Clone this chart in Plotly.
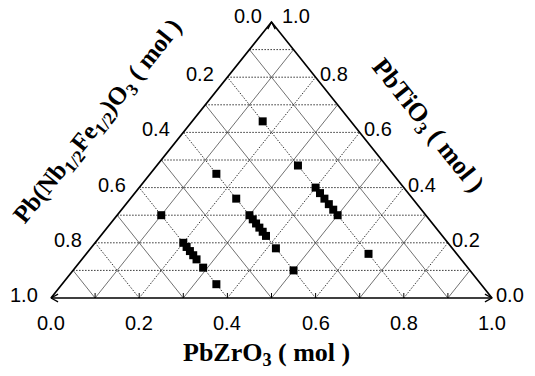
import plotly.graph_objects as go
import numpy as np

# ---- data (ternary fractions: PbTiO3, PbZrO3, Pb(Nb1/2Fe1/2)O3) ----
pnf_02_ti = [0.64, 0.48, 0.40, 0.38, 0.36, 0.34, 0.32, 0.30, 0.16]
pnf_04_ti = [0.45, 0.36, 0.30, 0.285, 0.27, 0.255, 0.24, 0.225, 0.18, 0.10]
pnf_06_ti = [0.30, 0.20, 0.185, 0.17, 0.155, 0.14, 0.11, 0.05]
pnf_levels = [0.2, 0.4, 0.6]
tick_vals = [0.0, 0.2, 0.4, 0.6, 0.8, 1.0]
tick_text = ["0.0", "0.2", "0.4", "0.6", "0.8", "1.0"]

# ---- page geometry (pixels) ----
W, H = 535, 376
X0, X1 = 51.0, 492.0   # bottom-left / bottom-right vertex
Y0, Y1 = 298.0, 22.0   # base / apex
SX = X1 - X0
SY = Y0 - Y1

def px2u(px):
    return (px - X0) / SX

def py2t(py):
    return (Y0 - py) / SY

def cart(zr, ti):
    return zr + ti / 2.0, ti

fig = go.Figure()

def add_line(us, ts, dash="solid", width=1.0, color="#222"):
    fig.add_trace(go.Scatter(x=us, y=ts, mode="lines",
                             line=dict(color=color, width=width, dash=dash),
                             hoverinfo="skip", showlegend=False))

DOT = "1.5px,1.5px"
# grid
for k in range(1, 10):
    v = k / 10.0
    odd = (k % 2 == 1)
    # horizontal: constant PbTiO3
    add_line([v / 2, 1 - v / 2], [v, v], dash=DOT, width=1.0, color="#333")
    # constant PbZrO3
    a = cart(v, 0); b = cart(v, 1 - v)
    add_line([a[0], b[0]], [a[1], b[1]],
             dash="solid" if odd else DOT, width=0.7 if odd else 1.0, color="#333")
    # constant PNF
    a = cart(1 - v, 0); b = cart(0, 1 - v)
    add_line([a[0], b[0]], [a[1], b[1]],
             dash="solid" if odd else DOT, width=0.7 if odd else 1.0, color="#333")

# triangle outline
add_line([0, 1, 0.5, 0], [0, 0, 1, 0], width=1.7, color="#000")

# bottom ticks
for k in range(1, 10):
    v = k / 10.0
    add_line([v, v], [0, 5 / SY], width=1.0, color="#000")

# vertex arrowheads (chevrons)
L = 8.0
ang = np.deg2rad(28)
du, dt = L * np.cos(ang) / SX, L * np.sin(ang) / SY
add_line([du, 0, du], [dt, 0, -dt], width=1.4, color="#000")
add_line([1 - du, 1, 1 - du], [dt, 0, -dt], width=1.4, color="#000")
du2, dt2 = L * np.sin(ang) / SX, L * np.cos(ang) / SY
add_line([0.5 - du2, 0.5, 0.5 + du2], [1 - dt2, 1, 1 - dt2], width=1.4, color="#000")

# data points
for n, tis in zip(pnf_levels, [pnf_02_ti, pnf_04_ti, pnf_06_ti]):
    ti = np.array(tis)
    zr = 1 - n - ti
    u, t = cart(zr, ti)
    fig.add_trace(go.Scatter(x=u, y=t, mode="markers",
                             marker=dict(symbol="square", size=8, color="#000"),
                             showlegend=False, cliponaxis=False,
                             customdata=np.stack([zr, ti, np.full_like(ti, n)], axis=1),
                             hovertemplate="PbZrO3=%{customdata[0]:.3f}<br>PbTiO3=%{customdata[1]:.3f}<br>PNF=%{customdata[2]:.2f}<extra></extra>"))

ann = []
tfont = dict(family="Arial, Liberation Sans", size=20, color="#000")
# bottom axis labels (PbZrO3)
for v, s in zip(tick_vals, tick_text):
    ann.append(dict(x=v, y=0, xref="x", yref="y", text=s, showarrow=False,
                    font=tfont, xanchor="center", yanchor="middle", yshift=-25))
# left axis labels (PNF): 0 at apex, 1 at bottom-left
for v, s in zip(tick_vals, tick_text):
    u, t = cart(0, 1 - v)
    if v == 0.0:
        ann.append(dict(x=u, y=t, xref="x", yref="y", text=s, showarrow=False, font=tfont,
                        xanchor="right", yanchor="middle", xshift=-8, yshift=6))
    else:
        ann.append(dict(x=u, y=t, xref="x", yref="y", text=s, showarrow=False, font=tfont,
                        xanchor="right", yanchor="middle", xshift=-11, yshift=3))
# right axis labels (PbTiO3): 0 at bottom-right, 1 at apex
for v, s in zip(tick_vals, tick_text):
    u, t = cart(1 - v, v)
    if v == 1.0:
        ann.append(dict(x=u, y=t, xref="x", yref="y", text=s, showarrow=False, font=tfont,
                        xanchor="left", yanchor="middle", xshift=8, yshift=6))
    else:
        ann.append(dict(x=u, y=t, xref="x", yref="y", text=s, showarrow=False, font=tfont,
                        xanchor="left", yanchor="middle", xshift=2, yshift=3))

angle = float(np.degrees(np.arctan2(SY, SX / 2)))
bfont = dict(family="Times New Roman, Liberation Serif", size=26, color="#000")
lfont = dict(family="Times New Roman, Liberation Serif", size=25, color="#000")
ann.append(dict(x=px2u(266), y=py2t(354), xref="x", yref="y",
                text="<b>PbZrO<sub>3</sub> ( mol )</b>", showarrow=False, font=bfont,
                xanchor="center", yanchor="middle"))
ann.append(dict(x=px2u(98), y=py2t(122), xref="x", yref="y",
                text="<b>Pb(Nb<sub>1/2</sub>Fe<sub>1/2</sub>)O<sub>3</sub> ( mol )</b>",
                showarrow=False, font=lfont, textangle=-angle,
                xanchor="center", yanchor="middle"))
ann.append(dict(x=px2u(427), y=py2t(126), xref="x", yref="y",
                text="<b>PbTiO<sub>3</sub> ( mol )</b>",
                showarrow=False, font=bfont, textangle=angle,
                xanchor="center", yanchor="middle"))

fig.update_layout(
    width=W, height=H,
    margin=dict(l=0, r=0, t=0, b=0),
    paper_bgcolor="white", plot_bgcolor="white",
    xaxis=dict(range=[px2u(0), px2u(W)], visible=False, fixedrange=True),
    yaxis=dict(range=[py2t(H), py2t(0)], visible=False, fixedrange=True),
    annotations=ann,
    showlegend=False,
)

fig.write_html("out.html")
